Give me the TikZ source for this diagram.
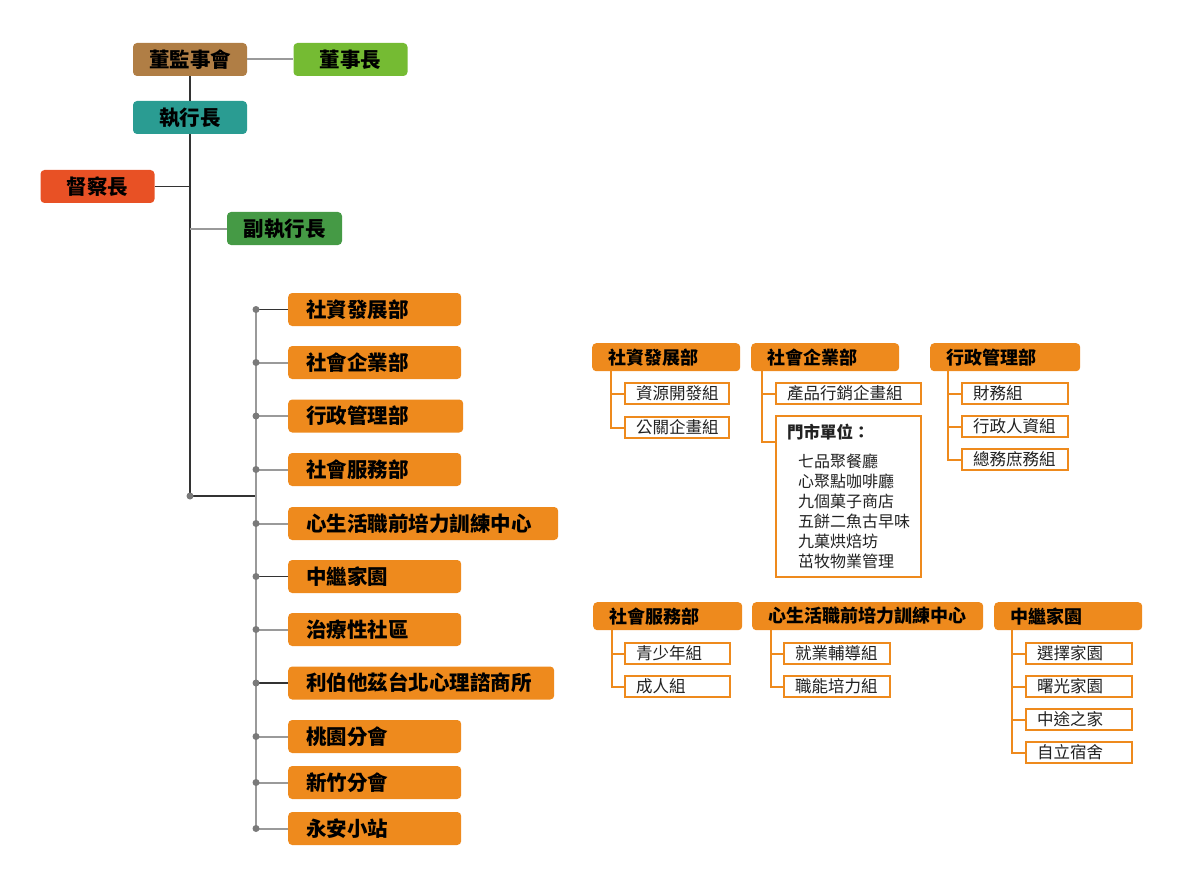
\documentclass[tikz,border=0pt]{standalone}
\usepackage{fontspec}
\setmainfont{Noto Sans CJK TC}
\definecolor{boardbrown}{HTML}{B07E45}
\definecolor{chairgreen}{HTML}{75BB33}
\definecolor{ceoteal}{HTML}{2A9C92}
\definecolor{auditred}{HTML}{E85125}
\definecolor{deputygreen}{HTML}{459A45}
\definecolor{deptorange}{HTML}{EE8A1D}
\definecolor{darkline}{HTML}{333333}
\definecolor{greyline}{HTML}{9A9A9A}
\definecolor{dotgrey}{HTML}{7A7A7A}
\definecolor{unittext}{HTML}{222222}

\begin{document}
\begin{tikzpicture}[x=1pt,y=-1pt,
	lead/.style={fill=#1, rounded corners=4pt, minimum width=114pt, minimum height=33pt, inner sep=0pt, font=\fontsize{20.5}{24}\selectfont\bfseries},
	dept/.style={fill=deptorange, rounded corners=4pt, anchor=west, minimum height=33pt, text width=#1, inner xsep=18pt, inner ysep=0pt, align=left, font=\fontsize{20.5}{24}\selectfont\bfseries},
	dept/.default=137pt,
	head/.style={fill=deptorange, rounded corners=4pt, anchor=north west, minimum height=28pt, text width=#1, inner xsep=16pt, inner ysep=0pt, align=left, font=\fontsize{18}{22}\selectfont\bfseries},
	unit/.style={draw=deptorange, line width=2pt, fill=white, anchor=north west, minimum height=21pt, text width=#1, inner xsep=11pt, inner ysep=0pt, align=left, text=unittext, font=\fontsize{16.5}{20}\selectfont},
	trunk/.style={draw=darkline, line width=1.2pt},
	twig/.style={draw=greyline, line width=2pt},
	bracket/.style={draw=deptorange, line width=2pt}
	]
	\useasboundingbox (0,0) rectangle (1191,896);

	\node[lead=boardbrown](A) at (190,59.5){董監事會};
	\node[lead=chairgreen](B) at (350.5,59.5){董事長};
	\node[lead=ceoteal](C) at (190,117.5){執行長};
	\node[lead=auditred](D) at (97.5,186.5){督察長};
	\node[lead=deputygreen, minimum width=115pt](E) at (284.5,228.5){副執行長};

	\node[dept](F1) at (288,309.5){社資發展部};
	\node[dept](F2) at (288,362.5){社會企業部};
	\node[dept=139pt](F3) at (288,416){行政管理部};
	\node[dept](F4) at (288,469.5){社會服務部};
	\node[dept=234pt](F5) at (288,523.5){心生活職前培力訓練中心};
	\node[dept](F6) at (288,576.5){中繼家園};
	\node[dept](F7) at (288,629.5){治療性社區};
	\node[dept=230pt](F8) at (288,683){利伯他茲台北心理諮商所};
	\node[dept](F9) at (288,736.5){桃園分會};
	\node[dept](F10) at (288,782.5){新竹分會};
	\node[dept](F11) at (288,828.5){永安小站};

	\coordinate (hub) at (190,496);
	\coordinate (bus) at (256,496);
	\draw[trunk] (A.south) -- (C.north);
	\draw[trunk] (C.south) -- (hub);
	\draw[twig] (A.east) -- (B.west);
	\draw[trunk] (D.east) -- (D.east -| hub);
	\draw[twig] (E.west) -- (E.west -| hub);
	\draw[trunk] (hub) -- (bus);
	\draw[twig] (F1.west -| bus) -- (F11.west -| bus);
	\foreach \d in {F2,F3,F4,F5,F7,F9,F10,F11}
		\draw[twig] (\d.west -| bus) -- (\d.west);
	\foreach \d in {F1,F6,F8}
		\draw[trunk] (\d.west -| bus) -- (\d.west);
	\foreach \d in {F1,F2,F3,F4,F5,F6,F7,F8,F9,F10,F11}
		\fill[dotgrey] (\d.west -| bus) circle (3.5pt);
	\fill[dotgrey] (hub) circle (3.5pt);

	\node[head=116pt](H1) at (592,343){社資發展部};
	\node[unit=82pt](H1a) at (624,382){資源開發組};
	\node[unit=82pt](H1b) at (624,416){公關企畫組};

	\node[head=116pt](H2) at (751,343){社會企業部};
	\node[unit=123pt](H2a) at (775,382){產品行銷企畫組};
	\node[unit=123pt, minimum height=161pt, font=\fontsize{16}{20}\selectfont](H2b) at (775,415){
		\textbf{\fontsize{16.5}{20}\selectfont 門市單位：}\\[9pt]
		\hspace*{11pt}七品聚餐廳\\
		\hspace*{11pt}心聚點咖啡廳\\
		\hspace*{11pt}九個菓子商店\\
		\hspace*{11pt}五餅二魚古早味\\
		\hspace*{11pt}九菓烘焙坊\\
		\hspace*{11pt}茁牧物業管理
	};

	\node[head=118pt](H3) at (930,343){行政管理部};
	\node[unit=84pt](H3a) at (961,382){財務組};
	\node[unit=84pt](H3b) at (961,415){行政人資組};
	\node[unit=84pt](H3c) at (961,448){總務庶務組};

	\node[head=117pt](H4) at (593,602){社會服務部};
	\node[unit=83pt](H4a) at (624,642){青少年組};
	\node[unit=83pt](H4b) at (624,675){成人組};

	\node[head=199pt](H5) at (752,602){心生活職前培力訓練中心};
	\node[unit=84pt](H5a) at (783,642){就業輔導組};
	\node[unit=84pt](H5b) at (783,675){職能培力組};

	\node[head=116pt](H6) at (994,602){中繼家園};
	\node[unit=84pt](H6a) at (1025,642){選擇家園};
	\node[unit=84pt](H6b) at (1025,675){曙光家園};
	\node[unit=84pt](H6c) at (1025,708){中途之家};
	\node[unit=84pt](H6d) at (1025,741){自立宿舍};

	\foreach \s in {H1a,H1b}
		\draw[bracket] ([xshift=19pt]H1.south west) |- (\s.west);
	\draw[bracket] ([xshift=11pt]H2.south west) |- (H2a.west);
	\draw[bracket] ([xshift=11pt]H2.south west) |- ([yshift=-27pt]H2b.north west);
	\foreach \s in {H3a,H3b,H3c}
		\draw[bracket] ([xshift=18pt]H3.south west) |- (\s.west);
	\foreach \s in {H4a,H4b}
		\draw[bracket] ([xshift=19pt]H4.south west) |- (\s.west);
	\foreach \s in {H5a,H5b}
		\draw[bracket] ([xshift=19pt]H5.south west) |- (\s.west);
	\foreach \s in {H6a,H6b,H6c,H6d}
		\draw[bracket] ([xshift=18pt]H6.south west) |- (\s.west);
\end{tikzpicture}
\end{document}
